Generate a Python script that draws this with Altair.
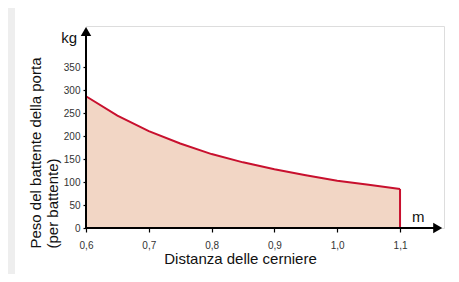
import altair as alt
import pandas as pd

# data
distanza = [0.60, 0.65, 0.70, 0.75, 0.80, 0.85, 0.90, 0.95, 1.00, 1.05, 1.10]
peso = [287, 245, 211, 184, 161, 143, 128, 115, 103, 94, 85]
x_ticks = [0.6, 0.7, 0.8, 0.9, 1.0, 1.1]
y_ticks = [0, 50, 100, 150, 200, 250, 300, 350]
x_title = "Distanza delle cerniere"
y_title = ["Peso del battente della porta", "(per battente)"]
unit_x = "m"
unit_y = "kg"
X_MAX = 1.17
Y_MAX = 440

df = pd.DataFrame({"d": distanza, "p": peso})
FILL = "#f2d6c5"
LINE = "#c8102e"
TXT = "#111111"

xscale = alt.Scale(domain=[0.6, X_MAX], nice=False, zero=False)
yscale = alt.Scale(domain=[0, Y_MAX], nice=False)

xax = alt.Axis(
    values=x_ticks,
    labelExpr="replace(format(datum.value, '.1f'), '.', ',')",
    title=x_title, titleFontSize=15, titleFontWeight="normal", titleColor=TXT,
    titlePadding=1, titleX=154, titleAnchor="middle", titleAlign="center",
    labelFontSize=10, labelColor="#333", labelPadding=8,
    grid=False, domain=False, tickColor="#000", tickSize=4, tickWidth=1.2,
    labelFlush=False, labelOverlap=False,
)
yax = alt.Axis(
    values=y_ticks, title=y_title, titleFontSize=15, titleFontWeight="normal",
    titleColor=TXT, titleAngle=-90, titleX=-51, titleY=222,
    titleAlign="left", titleBaseline="middle", titleLineHeight=17,
    labelFontSize=10, labelColor="#333", labelPadding=3,
    grid=False, domain=False, tickColor="#000", tickSize=3, tickWidth=1.2,
    labelOverlap=False,
)


def X(f):
    return alt.X(f, type="quantitative", scale=xscale, axis=xax)


def Y(f):
    return alt.Y(f, type="quantitative", scale=yscale, axis=yax)


base = alt.Chart(df)

area = base.mark_area(color=FILL, opacity=1).encode(x=X("d"), y=Y("p"))
line = base.mark_line(color=LINE, strokeWidth=2).encode(x=X("d"), y=Y("p"))

edge = alt.Chart(pd.DataFrame({"d": [distanza[-1]], "p": [peso[-1]], "z": [0]})).mark_rule(
    color=LINE, strokeWidth=2
).encode(x=X("d"), y=Y("p"), y2="z:Q")

xaxis_line = alt.Chart(pd.DataFrame({"a": [0.6], "b": [X_MAX - 0.012], "z": [0]})).mark_rule(
    color="#000", strokeWidth=2
).encode(x=X("a"), x2="b:Q", y=Y("z"))
yaxis_line = alt.Chart(pd.DataFrame({"a": [0.6], "z": [0], "t": [Y_MAX - 20]})).mark_rule(
    color="#000", strokeWidth=2
).encode(x=X("a"), y=Y("z"), y2="t:Q")

x_arrow = alt.Chart(pd.DataFrame({"a": [X_MAX - 0.01], "z": [0]})).mark_point(
    shape="triangle-right", filled=True, color="#000", size=110, opacity=1
).encode(x=X("a"), y=Y("z"))
y_arrow = alt.Chart(pd.DataFrame({"a": [0.6], "t": [Y_MAX - 12]})).mark_point(
    shape="triangle-up", filled=True, color="#000", size=110, opacity=1
).encode(x=X("a"), y=Y("t"))

kg = alt.Chart(pd.DataFrame({"a": [0.6], "t": [413], "s": [unit_y]})).mark_text(
    align="right", baseline="middle", dx=-9, fontSize=15, fill=TXT, font="Liberation Sans"
).encode(x=X("a"), y=Y("t"), text="s:N")
m = alt.Chart(pd.DataFrame({"a": [1.129], "t": [24], "s": [unit_x]})).mark_text(
    align="center", baseline="middle", fontSize=15, fill=TXT, font="Liberation Sans"
).encode(x=X("a"), y=Y("t"), text="s:N")

strip = alt.Chart(pd.DataFrame({"k": [0]})).mark_rect(color="#eeeeee").encode(
    x=alt.value(-78), x2=alt.value(-71), y=alt.value(-18), y2=alt.value(250)
)

chart = alt.layer(
    strip, area, line, edge, xaxis_line, yaxis_line, x_arrow, y_arrow, kg, m
).properties(
    width=358, height=202,
    autosize=alt.AutoSizeParams(type="none"),
    padding={"left": 78, "top": 18, "right": 7, "bottom": 46},
    background="white",
).configure_view(stroke=None).configure(font="Liberation Sans")

chart.save("out.html", embed_options={"renderer": "svg", "actions": False})
